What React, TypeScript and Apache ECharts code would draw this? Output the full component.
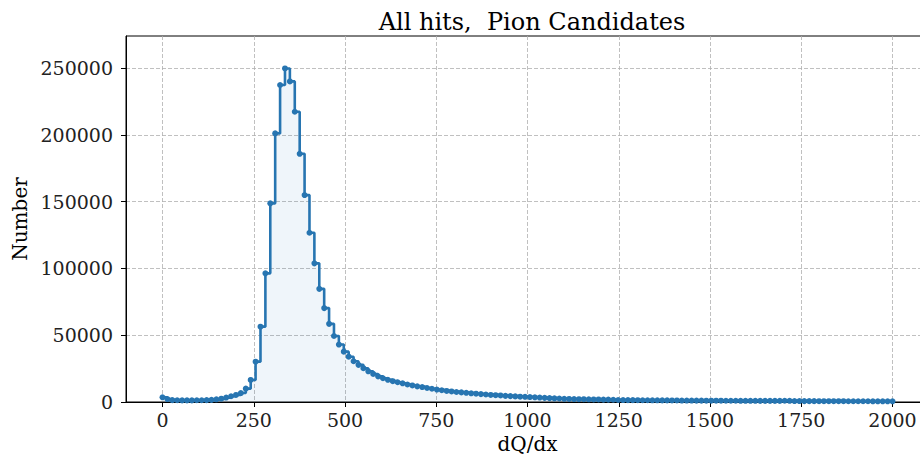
import React, { useEffect, useRef } from "react";
import * as echarts from "echarts";

// Histogram of dQ/dx for pion candidate hits, 150 bins over 0–2000
const BIN_COUNT = 150;
const X_MAX = 2000;

const counts: number[] = [
  // 0 – 240
  3500, 2200, 1400, 1300, 1200, 1200, 1200, 1300, 1300, 1400,
  1600, 2000, 2500, 3300, 4300, 5300, 6700, 10000,
  // 240 – 507 (peak)
  16500, 30200, 56400, 96300, 148700, 201100, 237300, 249700, 240000, 217300,
  185800, 154900, 126700, 103800, 84700, 70300, 58500, 49400, 43000, 37700,
  // 507 – 827
  33900, 30500, 27800, 25300, 23000, 21000, 19200, 17800, 16600, 15600,
  14800, 14000, 13100, 12400, 11700, 11200, 10500, 9900, 9300, 8800,
  8300, 7900, 7500, 7200,
  // 827 – 1253
  6900, 6500, 6200, 5900, 5600, 5300, 5100, 4900, 4600, 4400,
  4200, 4000, 3900, 3700, 3500, 3300, 3100, 2900, 2700, 2600,
  2400, 2300, 2200, 2100, 2100, 2000, 1900, 1900, 1800, 1800,
  1700, 1500,
  // 1253 – 2000
  1450, 1400, 1400, 1350, 1300, 1300, 1250, 1250, 1200, 1200,
  1150, 1150,
  1100, 1100, 1100, 1050, 1050, 1000, 1000, 1000, 1000, 950,
  950, 950, 900, 900, 900, 880, 860, 850, 850, 830, 820,
  950, 900,
  700, 680, 660, 650, 640, 630, 620, 610, 600, 600,
  590, 580, 570, 560, 560, 550, 540, 530, 520, 510, 500,
];

const xTicks: number[] = [0, 250, 500, 750, 1000, 1250, 1500, 1750, 2000];
const yTicks: number[] = [0, 50000, 100000, 150000, 200000, 250000];

const TITLE = "All hits,  Pion Candidates";
const X_LABEL = "dQ/dx";
const Y_LABEL = "Number";

const FONT = "'DejaVu Serif', serif";
const LINE_COLOR = "#2775b1";

export default function App() {
  const ref = useRef<HTMLDivElement>(null);

  useEffect(() => {
    document.body.style.margin = "0";
    if (!ref.current) return;
    const chart = echarts.init(ref.current, null, { renderer: "svg" });

    const step = X_MAX / (BIN_COUNT - 1);
    const points = counts.map((v, i) => [i * step, v]);

    const gridLine = {
      show: true,
      lineStyle: { color: "#b0b0b0", width: 0.8, type: [4, 2] as number[] },
    };
    const plain = (v: number) => String(v);

    chart.setOption({
      animation: false,
      backgroundColor: "#ffffff",
      title: {
        text: TITLE,
        left: 527,
        top: 5,
        textAlign: "center",
        textStyle: { fontFamily: FONT, fontSize: 24, fontWeight: "normal", color: "#000" },
      },
      grid: {
        left: 126,
        top: 36,
        width: 803,
        height: 366,
        outerBoundsMode: "none",
        containLabel: false,
        show: true,
        borderColor: "#000",
        borderWidth: 1,
        backgroundColor: "transparent",
      },
      xAxis: {
        type: "value",
        min: -100,
        max: 2100,
        name: X_LABEL,
        nameLocation: "middle",
        nameGap: 30,
        nameTextStyle: { fontFamily: FONT, fontSize: 20, color: "#000" },
        axisLine: { show: true, onZero: false, lineStyle: { color: "#000", width: 1 } },
        axisTick: { show: true, length: 5, inside: false, customValues: xTicks, lineStyle: { color: "#000" } },
        axisLabel: { customValues: xTicks, margin: 8, formatter: plain, fontFamily: FONT, fontSize: 19, color: "#222" },
        splitLine: gridLine,
      },
      yAxis: {
        type: "value",
        min: 0,
        max: 274000,
        name: Y_LABEL,
        nameLocation: "middle",
        nameGap: 95,
        nameRotate: 90,
        nameTextStyle: { fontFamily: FONT, fontSize: 20, color: "#000" },
        axisLine: { show: true, onZero: false, lineStyle: { color: "#000", width: 1 } },
        axisTick: { show: true, length: 5, inside: false, customValues: yTicks, lineStyle: { color: "#000" } },
        axisLabel: { customValues: yTicks, margin: 13, formatter: plain, fontFamily: FONT, fontSize: 19, color: "#222" },
        splitLine: gridLine,
      },
      series: [
        {
          type: "line",
          step: "end",
          data: points,
          symbol: "circle",
          symbolSize: 6,
          showSymbol: true,
          lineStyle: { color: LINE_COLOR, width: 2.6 },
          itemStyle: { color: LINE_COLOR },
          areaStyle: { color: "rgba(31,119,180,0.1)", origin: "start" },
          z: 3,
        },
      ],
    });

    return () => chart.dispose();
  }, []);

  return <div ref={ref} style={{ width: 920, height: 458 }} />;
}
